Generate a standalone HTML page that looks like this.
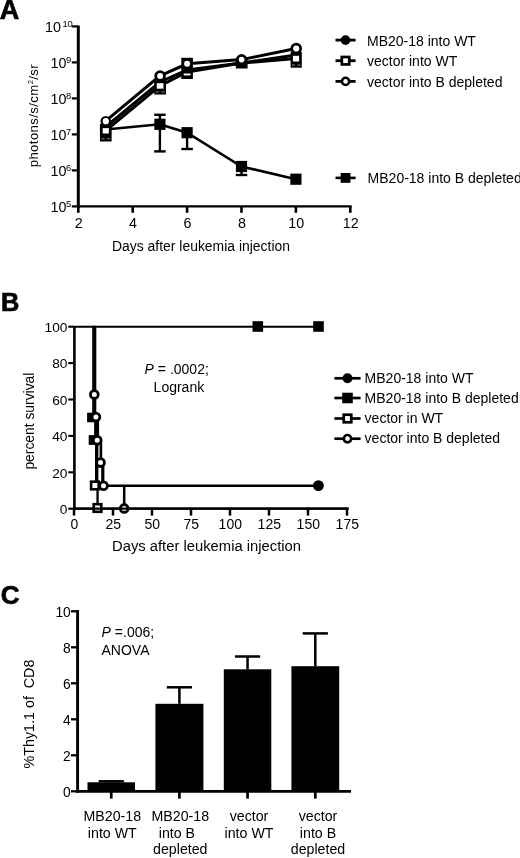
<!DOCTYPE html>
<html><head><meta charset="utf-8"><style>
html,body{margin:0;padding:0;background:#fff;}
body{width:520px;height:858px;overflow:hidden;}
svg{display:block;filter:blur(0.4px);}
text{font-family:"Liberation Sans",sans-serif;fill:#000;}
</style></head><body>
<svg width="520" height="858" viewBox="0 0 520 858">
<text x="-0.30" y="18.70" font-size="27" text-anchor="start" font-weight="bold" stroke="#000" stroke-width="0.7">A</text>
<line x1="78.30" y1="25.50" x2="78.30" y2="207.60" stroke="#000" stroke-width="3" stroke-linecap="butt"/>
<line x1="77.00" y1="206.40" x2="351.60" y2="206.40" stroke="#000" stroke-width="2.4" stroke-linecap="butt"/>
<line x1="71.80" y1="206.40" x2="78.00" y2="206.40" stroke="#000" stroke-width="2.2" stroke-linecap="butt"/>
<line x1="71.80" y1="170.40" x2="78.00" y2="170.40" stroke="#000" stroke-width="2.2" stroke-linecap="butt"/>
<line x1="71.80" y1="134.40" x2="78.00" y2="134.40" stroke="#000" stroke-width="2.2" stroke-linecap="butt"/>
<line x1="71.80" y1="98.40" x2="78.00" y2="98.40" stroke="#000" stroke-width="2.2" stroke-linecap="butt"/>
<line x1="71.80" y1="62.40" x2="78.00" y2="62.40" stroke="#000" stroke-width="2.2" stroke-linecap="butt"/>
<line x1="71.80" y1="26.40" x2="78.00" y2="26.40" stroke="#000" stroke-width="2.2" stroke-linecap="butt"/>
<line x1="78.30" y1="206.00" x2="78.30" y2="212.80" stroke="#000" stroke-width="2.6" stroke-linecap="butt"/>
<line x1="132.70" y1="206.00" x2="132.70" y2="212.80" stroke="#000" stroke-width="2.6" stroke-linecap="butt"/>
<line x1="187.10" y1="206.00" x2="187.10" y2="212.80" stroke="#000" stroke-width="2.6" stroke-linecap="butt"/>
<line x1="241.50" y1="206.00" x2="241.50" y2="212.80" stroke="#000" stroke-width="2.6" stroke-linecap="butt"/>
<line x1="295.90" y1="206.00" x2="295.90" y2="212.80" stroke="#000" stroke-width="2.6" stroke-linecap="butt"/>
<line x1="350.30" y1="206.00" x2="350.30" y2="212.80" stroke="#000" stroke-width="2.6" stroke-linecap="butt"/>
<text x="50.60" y="211.90" font-size="14.3" text-anchor="start" >10</text>
<text x="65.90" y="206.60" font-size="9.4" text-anchor="start" >5</text>
<text x="50.60" y="175.90" font-size="14.3" text-anchor="start" >10</text>
<text x="65.90" y="170.60" font-size="9.4" text-anchor="start" >6</text>
<text x="50.60" y="139.90" font-size="14.3" text-anchor="start" >10</text>
<text x="65.90" y="134.60" font-size="9.4" text-anchor="start" >7</text>
<text x="50.60" y="103.90" font-size="14.3" text-anchor="start" >10</text>
<text x="65.90" y="98.60" font-size="9.4" text-anchor="start" >8</text>
<text x="50.60" y="67.90" font-size="14.3" text-anchor="start" >10</text>
<text x="65.90" y="62.60" font-size="9.4" text-anchor="start" >9</text>
<text x="45.00" y="31.90" font-size="14.3" text-anchor="start" >10</text>
<text x="62.40" y="26.60" font-size="9.4" text-anchor="start" >10</text>
<text x="78.70" y="227.80" font-size="14.3" text-anchor="middle" >2</text>
<text x="133.10" y="227.80" font-size="14.3" text-anchor="middle" >4</text>
<text x="187.50" y="227.80" font-size="14.3" text-anchor="middle" >6</text>
<text x="241.90" y="227.80" font-size="14.3" text-anchor="middle" >8</text>
<text x="296.30" y="227.80" font-size="14.3" text-anchor="middle" >10</text>
<text x="350.70" y="227.80" font-size="14.3" text-anchor="middle" >12</text>
<text x="112.00" y="250.80" font-size="14" text-anchor="start" textLength="178" lengthAdjust="spacingAndGlyphs">Days after leukemia injection</text>
<text transform="translate(37.9,167.3) rotate(-90)" font-size="13.2" textLength="103" lengthAdjust="spacing">photons/s/cm<tspan font-size="7.6" dy="-4.6">2</tspan><tspan dy="4.6">/sr</tspan></text>
<polyline points="105.50,129.50 159.90,124.30 187.10,132.70 241.50,166.50 295.90,179.20" fill="none" stroke="#000" stroke-width="2.6" stroke-linejoin="miter"/>
<line x1="159.90" y1="124.30" x2="159.90" y2="114.80" stroke="#000" stroke-width="2.4" stroke-linecap="butt"/>
<line x1="154.15" y1="114.80" x2="165.65" y2="114.80" stroke="#000" stroke-width="2.4" stroke-linecap="butt"/>
<line x1="159.90" y1="124.30" x2="159.90" y2="151.40" stroke="#000" stroke-width="2.4" stroke-linecap="butt"/>
<line x1="154.15" y1="151.40" x2="165.65" y2="151.40" stroke="#000" stroke-width="2.4" stroke-linecap="butt"/>
<line x1="187.10" y1="132.70" x2="187.10" y2="149.00" stroke="#000" stroke-width="2.4" stroke-linecap="butt"/>
<line x1="181.35" y1="149.00" x2="192.85" y2="149.00" stroke="#000" stroke-width="2.4" stroke-linecap="butt"/>
<line x1="241.50" y1="166.50" x2="241.50" y2="175.00" stroke="#000" stroke-width="2.4" stroke-linecap="butt"/>
<line x1="235.75" y1="175.00" x2="247.25" y2="175.00" stroke="#000" stroke-width="2.4" stroke-linecap="butt"/>
<rect x="99.90" y="123.90" width="11.20" height="11.20" fill="#000"/>
<rect x="154.30" y="118.70" width="11.20" height="11.20" fill="#000"/>
<rect x="181.50" y="127.10" width="11.20" height="11.20" fill="#000"/>
<rect x="235.90" y="160.90" width="11.20" height="11.20" fill="#000"/>
<rect x="290.30" y="173.60" width="11.20" height="11.20" fill="#000"/>
<polyline points="105.50,127.00 159.90,82.00 187.10,70.00 241.50,63.00 295.90,55.00" fill="none" stroke="#000" stroke-width="3" stroke-linejoin="miter"/>
<polyline points="105.50,130.80 159.90,85.80 187.10,72.00 241.50,63.00 295.90,58.50" fill="none" stroke="#000" stroke-width="3" stroke-linejoin="miter"/>
<polyline points="105.50,121.20 159.90,75.80 187.10,63.80 241.50,59.60 295.90,48.50" fill="none" stroke="#000" stroke-width="3" stroke-linejoin="miter"/>
<rect x="100.00" y="125.00" width="11.60" height="16.50" fill="#000"/>
<rect x="102.70" y="128.10" width="6.10" height="5.40" fill="#fff"/>
<line x1="101.50" y1="138.70" x2="104.50" y2="138.70" stroke="#8a8a8a" stroke-width="1"/>
<line x1="107.00" y1="138.70" x2="110.20" y2="138.70" stroke="#8a8a8a" stroke-width="1"/>
<circle cx="105.80" cy="121.20" r="5.30" fill="#000"/>
<circle cx="105.80" cy="121.20" r="3.10" fill="#fff"/>
<rect x="154.20" y="80.50" width="11.80" height="14.00" fill="#000"/>
<rect x="156.80" y="83.20" width="6.70" height="5.50" fill="#fff"/>
<line x1="155.50" y1="92.00" x2="158.50" y2="92.00" stroke="#8a8a8a" stroke-width="1"/>
<line x1="161.50" y1="92.00" x2="164.80" y2="92.00" stroke="#8a8a8a" stroke-width="1"/>
<circle cx="160.10" cy="76.00" r="5.80" fill="#000"/>
<circle cx="160.10" cy="76.00" r="3.00" fill="#fff"/>
<rect x="181.30" y="57.80" width="11.60" height="21.20" fill="#000"/>
<rect x="183.70" y="73.50" width="6.80" height="1.90" fill="#fff"/>
<circle cx="187.10" cy="63.80" r="3.00" fill="#fff"/>
<rect x="235.80" y="58.00" width="11.80" height="10.50" fill="#000"/>
<circle cx="241.60" cy="59.60" r="5.60" fill="#000"/>
<circle cx="241.60" cy="59.60" r="2.90" fill="#fff"/>
<rect x="290.60" y="52.00" width="11.20" height="15.70" fill="#000"/>
<rect x="292.90" y="55.80" width="6.20" height="5.70" fill="#fff"/>
<line x1="292.00" y1="65.00" x2="295.00" y2="65.00" stroke="#8a8a8a" stroke-width="1"/>
<line x1="297.50" y1="65.00" x2="300.50" y2="65.00" stroke="#8a8a8a" stroke-width="1"/>
<circle cx="296.20" cy="48.50" r="5.80" fill="#000"/>
<circle cx="296.20" cy="48.50" r="3.10" fill="#fff"/>
<line x1="335.50" y1="40.10" x2="355.60" y2="40.10" stroke="#000" stroke-width="2.8" stroke-linecap="butt"/>
<circle cx="345.55" cy="40.10" r="4.88" fill="#000"/>
<text x="367.00" y="45.60" font-size="14" text-anchor="start" >MB20-18 into WT</text>
<line x1="335.50" y1="60.70" x2="355.60" y2="60.70" stroke="#000" stroke-width="2.8" stroke-linecap="butt"/>
<rect x="341.84" y="56.99" width="7.42" height="7.42" fill="#fff" stroke="#000" stroke-width="2.7"/>
<text x="367.00" y="66.00" font-size="14" text-anchor="start" >vector into WT</text>
<line x1="335.50" y1="81.40" x2="355.60" y2="81.40" stroke="#000" stroke-width="2.8" stroke-linecap="butt"/>
<circle cx="345.55" cy="81.40" r="3.60" fill="#fff" stroke="#000" stroke-width="2.6"/>
<text x="367.00" y="86.60" font-size="14" text-anchor="start" >vector into B depleted</text>
<line x1="335.50" y1="177.90" x2="355.60" y2="177.90" stroke="#000" stroke-width="2.6" stroke-linecap="butt"/>
<rect x="340.65" y="173.00" width="9.80" height="9.80" fill="#000"/>
<text x="367.60" y="182.80" font-size="14" text-anchor="start" >MB20-18 into B depleted</text>
<text x="1.10" y="310.60" font-size="25.4" text-anchor="start" font-weight="bold" stroke="#000" stroke-width="0.7">B</text>
<line x1="74.40" y1="326.00" x2="74.40" y2="509.80" stroke="#000" stroke-width="2.6" stroke-linecap="butt"/>
<line x1="73.20" y1="508.60" x2="348.60" y2="508.60" stroke="#000" stroke-width="2.3" stroke-linecap="butt"/>
<line x1="68.30" y1="508.70" x2="74.00" y2="508.70" stroke="#000" stroke-width="2.1" stroke-linecap="butt"/>
<text x="67.40" y="514.00" font-size="13.7" text-anchor="end" >0</text>
<line x1="68.30" y1="472.30" x2="74.00" y2="472.30" stroke="#000" stroke-width="2.1" stroke-linecap="butt"/>
<text x="67.40" y="477.60" font-size="13.7" text-anchor="end" >20</text>
<line x1="68.30" y1="435.90" x2="74.00" y2="435.90" stroke="#000" stroke-width="2.1" stroke-linecap="butt"/>
<text x="67.40" y="441.20" font-size="13.7" text-anchor="end" >40</text>
<line x1="68.30" y1="399.50" x2="74.00" y2="399.50" stroke="#000" stroke-width="2.1" stroke-linecap="butt"/>
<text x="67.40" y="404.80" font-size="13.7" text-anchor="end" >60</text>
<line x1="68.30" y1="363.10" x2="74.00" y2="363.10" stroke="#000" stroke-width="2.1" stroke-linecap="butt"/>
<text x="67.40" y="368.40" font-size="13.7" text-anchor="end" >80</text>
<line x1="68.30" y1="326.70" x2="74.00" y2="326.70" stroke="#000" stroke-width="2.1" stroke-linecap="butt"/>
<text x="67.40" y="332.00" font-size="13.7" text-anchor="end" >100</text>
<line x1="74.00" y1="508.00" x2="74.00" y2="515.60" stroke="#000" stroke-width="2.5" stroke-linecap="butt"/>
<text x="74.30" y="529.30" font-size="14" text-anchor="middle" >0</text>
<line x1="113.00" y1="508.00" x2="113.00" y2="515.60" stroke="#000" stroke-width="2.5" stroke-linecap="butt"/>
<text x="113.30" y="529.30" font-size="14" text-anchor="middle" >25</text>
<line x1="152.00" y1="508.00" x2="152.00" y2="515.60" stroke="#000" stroke-width="2.5" stroke-linecap="butt"/>
<text x="152.30" y="529.30" font-size="14" text-anchor="middle" >50</text>
<line x1="191.00" y1="508.00" x2="191.00" y2="515.60" stroke="#000" stroke-width="2.5" stroke-linecap="butt"/>
<text x="191.30" y="529.30" font-size="14" text-anchor="middle" >75</text>
<line x1="230.00" y1="508.00" x2="230.00" y2="515.60" stroke="#000" stroke-width="2.5" stroke-linecap="butt"/>
<text x="230.30" y="529.30" font-size="14" text-anchor="middle" >100</text>
<line x1="269.00" y1="508.00" x2="269.00" y2="515.60" stroke="#000" stroke-width="2.5" stroke-linecap="butt"/>
<text x="269.30" y="529.30" font-size="14" text-anchor="middle" >125</text>
<line x1="308.00" y1="508.00" x2="308.00" y2="515.60" stroke="#000" stroke-width="2.5" stroke-linecap="butt"/>
<text x="308.30" y="529.30" font-size="14" text-anchor="middle" >150</text>
<line x1="347.00" y1="508.00" x2="347.00" y2="515.60" stroke="#000" stroke-width="2.5" stroke-linecap="butt"/>
<text x="347.30" y="529.30" font-size="14" text-anchor="middle" >175</text>
<text x="112.00" y="551.30" font-size="14" text-anchor="start" textLength="189" lengthAdjust="spacingAndGlyphs">Days after leukemia injection</text>
<text transform="translate(33.9,469.6) rotate(-90)" font-size="14" textLength="97" lengthAdjust="spacingAndGlyphs">percent survival</text>
<text x="144.6" y="374.2" font-size="14"><tspan font-style="italic">P</tspan> = .0002;</text>
<text x="153.60" y="391.50" font-size="14" text-anchor="start" >Logrank</text>
<line x1="74.00" y1="326.70" x2="318.50" y2="326.70" stroke="#000" stroke-width="2.1" stroke-linecap="butt"/>
<rect x="252.50" y="321.20" width="10.60" height="10.60" fill="#000"/>
<rect x="313.20" y="321.20" width="10.60" height="10.60" fill="#000"/>
<rect x="92.20" y="325.80" width="4.10" height="91.50" fill="#000"/>
<rect x="94.10" y="417.30" width="5.00" height="22.90" fill="#000"/>
<rect x="95.00" y="440.00" width="3.40" height="45.50" fill="#000"/>
<rect x="96.40" y="485.50" width="2.30" height="23.10" fill="#000"/>
<rect x="99.60" y="440.00" width="2.60" height="22.60" fill="#000"/>
<rect x="101.20" y="462.60" width="3.20" height="23.10" fill="#000"/>
<line x1="103.50" y1="485.70" x2="318.40" y2="485.70" stroke="#000" stroke-width="2.6" stroke-linecap="butt"/>
<line x1="124.20" y1="485.70" x2="124.20" y2="508.60" stroke="#000" stroke-width="2.5" stroke-linecap="butt"/>
<circle cx="318.40" cy="485.60" r="5.40" fill="#000"/>
<rect x="87.10" y="412.70" width="9.60" height="9.60" fill="#000"/>
<rect x="88.70" y="435.10" width="9.80" height="9.80" fill="#000"/>
<rect x="91.10" y="481.70" width="7.60" height="7.60" fill="#fff" stroke="#000" stroke-width="2.6"/>
<rect x="93.70" y="504.20" width="7.60" height="7.60" fill="#fff" stroke="#000" stroke-width="2.6"/>
<circle cx="94.30" cy="394.60" r="3.90" fill="#fff" stroke="#000" stroke-width="2.8"/>
<circle cx="95.90" cy="417.10" r="3.90" fill="#fff" stroke="#000" stroke-width="2.8"/>
<circle cx="97.20" cy="440.20" r="3.90" fill="#fff" stroke="#000" stroke-width="2.8"/>
<circle cx="100.50" cy="462.60" r="3.90" fill="#fff" stroke="#000" stroke-width="2.8"/>
<circle cx="103.50" cy="485.70" r="3.90" fill="#fff" stroke="#000" stroke-width="2.8"/>
<circle cx="124.20" cy="508.40" r="3.90" fill="#fff" stroke="#000" stroke-width="2.8"/>
<line x1="73.20" y1="508.60" x2="348.60" y2="508.60" stroke="#000" stroke-width="2.3" stroke-linecap="butt"/>
<line x1="334.40" y1="378.30" x2="360.60" y2="378.30" stroke="#000" stroke-width="2.7" stroke-linecap="butt"/>
<circle cx="347.50" cy="378.30" r="4.97" fill="#000"/>
<text x="364.60" y="382.70" font-size="14" text-anchor="start" >MB20-18 into WT</text>
<line x1="334.40" y1="398.00" x2="360.60" y2="398.00" stroke="#000" stroke-width="2.7" stroke-linecap="butt"/>
<rect x="342.21" y="392.71" width="10.58" height="10.58" fill="#000"/>
<text x="364.60" y="402.50" font-size="14" text-anchor="start" >MB20-18 into B depleted</text>
<line x1="334.40" y1="418.50" x2="360.60" y2="418.50" stroke="#000" stroke-width="2.7" stroke-linecap="butt"/>
<rect x="343.72" y="414.72" width="7.56" height="7.56" fill="#fff" stroke="#000" stroke-width="2.7"/>
<text x="364.60" y="423.00" font-size="14" text-anchor="start" >vector in WT</text>
<line x1="334.40" y1="438.70" x2="360.60" y2="438.70" stroke="#000" stroke-width="2.7" stroke-linecap="butt"/>
<circle cx="347.50" cy="438.70" r="3.67" fill="#fff" stroke="#000" stroke-width="2.6"/>
<text x="364.60" y="443.20" font-size="14" text-anchor="start" >vector into B depleted</text>
<text x="0.80" y="603.60" font-size="26" text-anchor="start" font-weight="bold" stroke="#000" stroke-width="0.7">C</text>
<line x1="77.60" y1="610.00" x2="77.60" y2="792.60" stroke="#000" stroke-width="2.9" stroke-linecap="butt"/>
<line x1="76.00" y1="791.40" x2="351.00" y2="791.40" stroke="#000" stroke-width="2.6" stroke-linecap="butt"/>
<line x1="71.00" y1="791.30" x2="77.00" y2="791.30" stroke="#000" stroke-width="2.3" stroke-linecap="butt"/>
<text x="70.80" y="796.90" font-size="13.8" text-anchor="end" >0</text>
<line x1="71.00" y1="755.30" x2="77.00" y2="755.30" stroke="#000" stroke-width="2.3" stroke-linecap="butt"/>
<text x="70.80" y="760.90" font-size="13.8" text-anchor="end" >2</text>
<line x1="71.00" y1="719.30" x2="77.00" y2="719.30" stroke="#000" stroke-width="2.3" stroke-linecap="butt"/>
<text x="70.80" y="724.90" font-size="13.8" text-anchor="end" >4</text>
<line x1="71.00" y1="683.30" x2="77.00" y2="683.30" stroke="#000" stroke-width="2.3" stroke-linecap="butt"/>
<text x="70.80" y="688.90" font-size="13.8" text-anchor="end" >6</text>
<line x1="71.00" y1="647.30" x2="77.00" y2="647.30" stroke="#000" stroke-width="2.3" stroke-linecap="butt"/>
<text x="70.80" y="652.90" font-size="13.8" text-anchor="end" >8</text>
<line x1="71.00" y1="611.30" x2="77.00" y2="611.30" stroke="#000" stroke-width="2.3" stroke-linecap="butt"/>
<text x="70.80" y="616.90" font-size="13.8" text-anchor="end" >10</text>
<line x1="111.25" y1="782.30" x2="111.25" y2="781.30" stroke="#000" stroke-width="2.5" stroke-linecap="butt"/>
<line x1="98.65" y1="781.30" x2="123.85" y2="781.30" stroke="#000" stroke-width="2.5" stroke-linecap="butt"/>
<rect x="87.50" y="782.30" width="47.50" height="9.10" fill="#000"/>
<line x1="111.25" y1="791.00" x2="111.25" y2="798.60" stroke="#000" stroke-width="2.7" stroke-linecap="butt"/>
<line x1="179.40" y1="703.80" x2="179.40" y2="687.30" stroke="#000" stroke-width="2.5" stroke-linecap="butt"/>
<line x1="166.80" y1="687.30" x2="192.00" y2="687.30" stroke="#000" stroke-width="2.5" stroke-linecap="butt"/>
<rect x="155.40" y="703.80" width="48.00" height="87.60" fill="#000"/>
<line x1="179.40" y1="791.00" x2="179.40" y2="798.60" stroke="#000" stroke-width="2.7" stroke-linecap="butt"/>
<line x1="247.55" y1="669.30" x2="247.55" y2="656.50" stroke="#000" stroke-width="2.5" stroke-linecap="butt"/>
<line x1="234.95" y1="656.50" x2="260.15" y2="656.50" stroke="#000" stroke-width="2.5" stroke-linecap="butt"/>
<rect x="223.80" y="669.30" width="47.50" height="122.10" fill="#000"/>
<line x1="247.55" y1="791.00" x2="247.55" y2="798.60" stroke="#000" stroke-width="2.7" stroke-linecap="butt"/>
<line x1="315.30" y1="666.20" x2="315.30" y2="633.40" stroke="#000" stroke-width="2.5" stroke-linecap="butt"/>
<line x1="302.70" y1="633.40" x2="327.90" y2="633.40" stroke="#000" stroke-width="2.5" stroke-linecap="butt"/>
<rect x="291.40" y="666.20" width="47.80" height="125.20" fill="#000"/>
<line x1="315.30" y1="791.00" x2="315.30" y2="798.60" stroke="#000" stroke-width="2.7" stroke-linecap="butt"/>
<text x="101.6" y="637.2" font-size="14"><tspan font-style="italic">P</tspan> =.006;</text>
<text x="101.50" y="654.60" font-size="14" text-anchor="start" >ANOVA</text>
<text transform="translate(33.9,768.4) rotate(-90)" font-size="14.3" textLength="108.8" lengthAdjust="spacing" xml:space="preserve">%Thy1.1 of  CD8</text>
<text x="112.30" y="821.00" font-size="14.2" text-anchor="middle" >MB20-18</text>
<text x="112.30" y="837.70" font-size="14.2" text-anchor="middle" >into WT</text>
<text x="180.30" y="821.00" font-size="14.2" text-anchor="middle" >MB20-18</text>
<text x="176.90" y="837.70" font-size="14.2" text-anchor="middle" >into B</text>
<text x="180.30" y="854.40" font-size="14.2" text-anchor="middle" >depleted</text>
<text x="249.00" y="821.00" font-size="14.2" text-anchor="middle" >vector</text>
<text x="249.00" y="837.70" font-size="14.2" text-anchor="middle" >into WT</text>
<text x="318.00" y="821.00" font-size="14.2" text-anchor="middle" >vector</text>
<text x="318.00" y="837.70" font-size="14.2" text-anchor="middle" >into B</text>
<text x="318.00" y="854.40" font-size="14.2" text-anchor="middle" >depleted</text>
</svg>
</body></html>
